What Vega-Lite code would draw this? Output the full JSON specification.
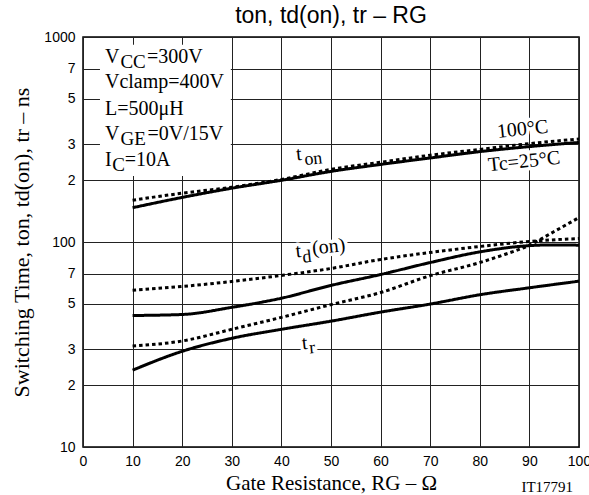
{
  "$schema": "https://vega.github.io/schema/vega-lite/v6.json",
  "width": 496,
  "height": 410,
  "autosize": {"type": "none"},
  "padding": {"left": 83, "top": 37, "right": 10, "bottom": 48},
  "background": "white",
  "title": {"text": "ton, td(on), tr  –  RG", "font": "Liberation Sans", "fontSize": 23, "fontWeight": "normal", "color": "black", "anchor": "middle", "offset": 2},
  "config": {
    "view": {"stroke": "black", "strokeWidth": 1.5},
    "axis": {"grid": true, "gridColor": "#222222", "gridWidth": 1, "gridOpacity": 1, "ticks": false, "tickSize": 0, "domain": false, "labelFont": "Liberation Sans", "labelFontSize": 14, "labelColor": "black", "titleFont": "Liberation Serif", "titleFontWeight": "normal", "titleColor": "black", "labelOverlap": false}
  },
  "datasets": {
    "curves": [
      {"rg": 10, "t": 147, "s": "ton", "tc": "25"},
      {"rg": 20, "t": 165, "s": "ton", "tc": "25"},
      {"rg": 30, "t": 183, "s": "ton", "tc": "25"},
      {"rg": 40, "t": 200, "s": "ton", "tc": "25"},
      {"rg": 50, "t": 221, "s": "ton", "tc": "25"},
      {"rg": 60, "t": 239, "s": "ton", "tc": "25"},
      {"rg": 70, "t": 257, "s": "ton", "tc": "25"},
      {"rg": 80, "t": 276, "s": "ton", "tc": "25"},
      {"rg": 90, "t": 292, "s": "ton", "tc": "25"},
      {"rg": 100, "t": 306, "s": "ton", "tc": "25"},
      {"rg": 10, "t": 160, "s": "ton", "tc": "100"},
      {"rg": 20, "t": 173, "s": "ton", "tc": "100"},
      {"rg": 30, "t": 185, "s": "ton", "tc": "100"},
      {"rg": 40, "t": 202, "s": "ton", "tc": "100"},
      {"rg": 50, "t": 226, "s": "ton", "tc": "100"},
      {"rg": 60, "t": 245, "s": "ton", "tc": "100"},
      {"rg": 70, "t": 265, "s": "ton", "tc": "100"},
      {"rg": 80, "t": 283, "s": "ton", "tc": "100"},
      {"rg": 90, "t": 302, "s": "ton", "tc": "100"},
      {"rg": 100, "t": 318, "s": "ton", "tc": "100"},
      {"rg": 10, "t": 43.8, "s": "td", "tc": "25"},
      {"rg": 20, "t": 44.3, "s": "td", "tc": "25"},
      {"rg": 30, "t": 48, "s": "td", "tc": "25"},
      {"rg": 40, "t": 53.2, "s": "td", "tc": "25"},
      {"rg": 50, "t": 61.4, "s": "td", "tc": "25"},
      {"rg": 60, "t": 69.4, "s": "td", "tc": "25"},
      {"rg": 70, "t": 79.4, "s": "td", "tc": "25"},
      {"rg": 80, "t": 89.5, "s": "td", "tc": "25"},
      {"rg": 90, "t": 96, "s": "td", "tc": "25"},
      {"rg": 95, "t": 96.8, "s": "td", "tc": "25"},
      {"rg": 100, "t": 96.5, "s": "td", "tc": "25"},
      {"rg": 10, "t": 58.2, "s": "td", "tc": "100"},
      {"rg": 20, "t": 60.7, "s": "td", "tc": "100"},
      {"rg": 30, "t": 64.2, "s": "td", "tc": "100"},
      {"rg": 40, "t": 68.7, "s": "td", "tc": "100"},
      {"rg": 50, "t": 74.3, "s": "td", "tc": "100"},
      {"rg": 60, "t": 82.2, "s": "td", "tc": "100"},
      {"rg": 70, "t": 88.9, "s": "td", "tc": "100"},
      {"rg": 80, "t": 95.1, "s": "td", "tc": "100"},
      {"rg": 90, "t": 100.6, "s": "td", "tc": "100"},
      {"rg": 100, "t": 104, "s": "td", "tc": "100"},
      {"rg": 10, "t": 23.7, "s": "tr", "tc": "25"},
      {"rg": 20, "t": 29.3, "s": "tr", "tc": "25"},
      {"rg": 30, "t": 33.9, "s": "tr", "tc": "25"},
      {"rg": 40, "t": 37.5, "s": "tr", "tc": "25"},
      {"rg": 50, "t": 41.1, "s": "tr", "tc": "25"},
      {"rg": 60, "t": 45.5, "s": "tr", "tc": "25"},
      {"rg": 70, "t": 49.8, "s": "tr", "tc": "25"},
      {"rg": 80, "t": 55.3, "s": "tr", "tc": "25"},
      {"rg": 90, "t": 59.8, "s": "tr", "tc": "25"},
      {"rg": 100, "t": 64.4, "s": "tr", "tc": "25"},
      {"rg": 10, "t": 31.1, "s": "tr", "tc": "100"},
      {"rg": 20, "t": 32.9, "s": "tr", "tc": "100"},
      {"rg": 30, "t": 37.5, "s": "tr", "tc": "100"},
      {"rg": 40, "t": 42.9, "s": "tr", "tc": "100"},
      {"rg": 50, "t": 49.5, "s": "tr", "tc": "100"},
      {"rg": 60, "t": 56.7, "s": "tr", "tc": "100"},
      {"rg": 70, "t": 68.5, "s": "tr", "tc": "100"},
      {"rg": 80, "t": 79.4, "s": "tr", "tc": "100"},
      {"rg": 85, "t": 86.9, "s": "tr", "tc": "100"},
      {"rg": 90, "t": 96.5, "s": "tr", "tc": "100"},
      {"rg": 95, "t": 112.5, "s": "tr", "tc": "100"},
      {"rg": 100, "t": 131.6, "s": "tr", "tc": "100"}
    ],
    "box": [
      {"rg": 3.42, "rg2": 29.8, "t": 917, "t2": 210}
    ],
    "ann": [
      {"rg": 4.43, "t": 746.8, "txt": "V", "g": "bm"},
      {"rg": 12.9, "t": 746.8, "txt": "=300V", "g": "bm"},
      {"rg": 4.43, "t": 564.3, "txt": "Vclamp=400V", "g": "bm"},
      {"rg": 4.43, "t": 418.1, "txt": "L=500μH", "g": "bm"},
      {"rg": 4.43, "t": 315.9, "txt": "V", "g": "bm"},
      {"rg": 13.0, "t": 315.9, "txt": "=0V/15V", "g": "bm"},
      {"rg": 4.43, "t": 234, "txt": "I", "g": "bm"},
      {"rg": 8.4, "t": 234, "txt": "=10A", "g": "bm"},
      {"rg": 7.55, "t": 704.7, "txt": "CC", "g": "bs"},
      {"rg": 7.55, "t": 298.6, "txt": "GE", "g": "bs"},
      {"rg": 5.9, "t": 221.3, "txt": "C", "g": "bs"},
      {"rg": 43.07, "t": 249.6, "txt": "t", "g": "lm"},
      {"rg": 43.0, "t": 84.0, "txt": "t", "g": "lm"},
      {"rg": 46.3, "t": 86.9, "txt": "(on)", "g": "lm"},
      {"rg": 44.24, "t": 29.9, "txt": "t", "g": "lm"},
      {"rg": 83.6, "t": 322, "txt": "100°C", "g": "lm"},
      {"rg": 81.8, "t": 221.3, "txt": "Tc=25°C", "g": "lm"},
      {"rg": 44.74, "t": 237.2, "txt": "on", "g": "ls"},
      {"rg": 44.37, "t": 79.2, "txt": "d", "g": "ls"},
      {"rg": 45.72, "t": 28.6, "txt": "r", "g": "ls"},
      {"rg": 88.4, "t": 6.01, "txt": "IT17791", "g": "id"}
    ]
  },
  "encoding": {
    "x": {"field": "rg", "type": "quantitative", "scale": {"domain": [0, 100], "nice": false, "zero": false},
      "axis": {"values": [0, 10, 20, 30, 40, 50, 60, 70, 80, 90, 100], "labelPadding": 7, "labelFlush": false, "title": "Gate Resistance, RG  –  Ω", "titleFontSize": 21, "titlePadding": 4}},
    "y": {"field": "t", "type": "quantitative", "scale": {"type": "log", "domain": [10, 1000], "nice": false},
      "axis": {"values": [10, 20, 30, 50, 70, 100, 200, 300, 500, 700, 1000], "labelExpr": "datum.value == 10 || datum.value == 100 || datum.value == 1000 ? datum.value : (datum.value < 100 ? datum.value / 10 : datum.value / 100)", "labelPadding": 8, "labelFlush": false, "title": "Switching Time, ton, td(on), tr  –  ns", "titleFontSize": 22, "titlePadding": 10}}
  },
  "layer": [
    {
      "data": {"name": "box"},
      "mark": {"type": "rect", "fill": "white", "stroke": null},
      "encoding": {"x2": {"field": "rg2"}, "y2": {"field": "t2"}}
    },
    {
      "data": {"name": "ann"},
      "transform": [{"filter": "datum.g == 'lm'"}],
      "mark": {"type": "text", "align": "left", "baseline": "alphabetic", "font": "Liberation Serif", "fontSize": 20, "angle": 354, "fill": "white", "stroke": "white", "strokeWidth": 7, "strokeJoin": "round"},
      "encoding": {"text": {"field": "txt"}}
    },
    {
      "data": {"name": "ann"},
      "transform": [{"filter": "datum.g == 'ls'"}],
      "mark": {"type": "text", "align": "left", "baseline": "alphabetic", "font": "Liberation Serif", "fontSize": 18, "angle": 354, "fill": "white", "stroke": "white", "strokeWidth": 7, "strokeJoin": "round"},
      "encoding": {"text": {"field": "txt"}}
    },
    {
      "data": {"name": "curves"},
      "mark": {"type": "line", "color": "black", "strokeWidth": 3, "interpolate": "monotone"},
      "encoding": {
        "detail": {"field": "s"},
        "strokeDash": {"field": "tc", "type": "nominal", "scale": {"domain": ["25", "100"], "range": [[1, 0], [3.5, 3]]}, "legend": null}
      }
    },
    {
      "data": {"name": "ann"},
      "transform": [{"filter": "datum.g == 'bm'"}],
      "mark": {"type": "text", "align": "left", "baseline": "alphabetic", "font": "Liberation Serif", "fontSize": 20, "color": "black"},
      "encoding": {"text": {"field": "txt"}}
    },
    {
      "data": {"name": "ann"},
      "transform": [{"filter": "datum.g == 'bs'"}],
      "mark": {"type": "text", "align": "left", "baseline": "alphabetic", "font": "Liberation Serif", "fontSize": 19, "color": "black"},
      "encoding": {"text": {"field": "txt"}}
    },
    {
      "data": {"name": "ann"},
      "transform": [{"filter": "datum.g == 'lm'"}],
      "mark": {"type": "text", "align": "left", "baseline": "alphabetic", "font": "Liberation Serif", "fontSize": 20, "angle": 354, "color": "black"},
      "encoding": {"text": {"field": "txt"}}
    },
    {
      "data": {"name": "ann"},
      "transform": [{"filter": "datum.g == 'ls'"}],
      "mark": {"type": "text", "align": "left", "baseline": "alphabetic", "font": "Liberation Serif", "fontSize": 18, "angle": 354, "color": "black"},
      "encoding": {"text": {"field": "txt"}}
    },
    {
      "data": {"name": "ann"},
      "transform": [{"filter": "datum.g == 'id'"}],
      "mark": {"type": "text", "align": "left", "baseline": "alphabetic", "font": "Liberation Serif", "fontSize": 15, "color": "black"},
      "encoding": {"text": {"field": "txt"}}
    }
  ]
}
